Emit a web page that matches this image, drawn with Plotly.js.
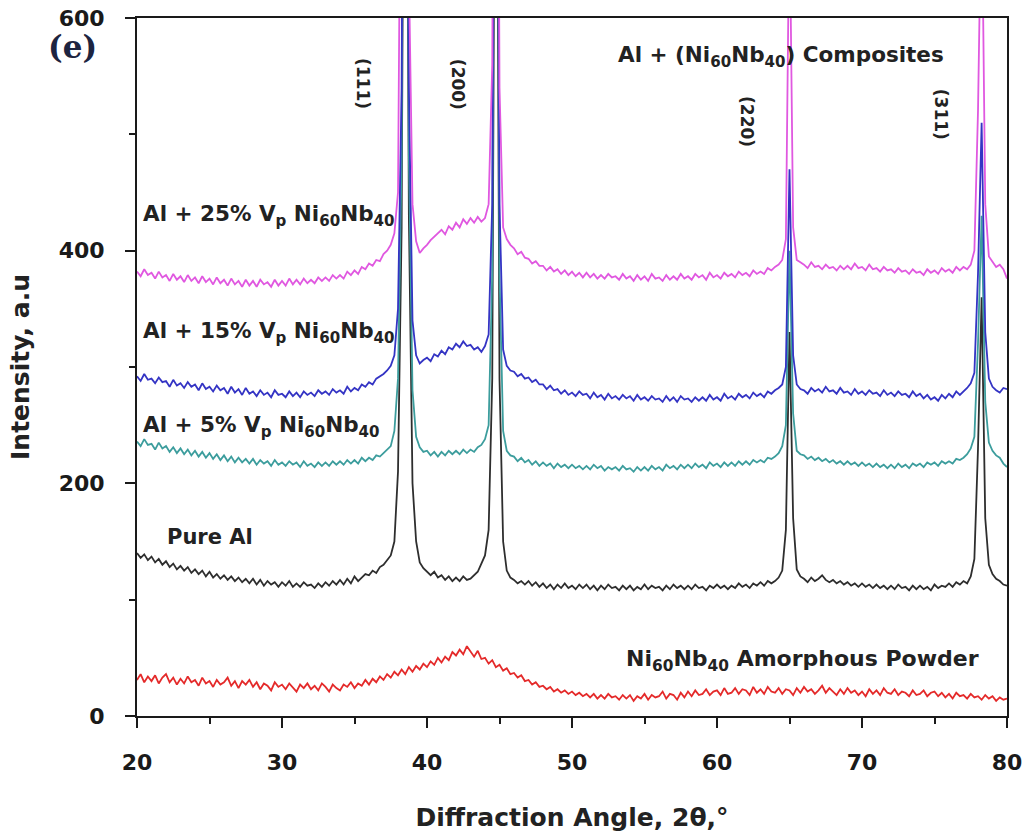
<!DOCTYPE html>
<html>
<head>
<meta charset="utf-8">
<script src="https://cdn.plot.ly/plotly-3.0.1.min.js"></script>
<style>html,body{margin:0;padding:0;background:#fff;}#chart{width:1024px;height:839px;}</style>
</head>
<body>
<div id="chart"></div>
<script>
// Diffraction angle grid: starts at 20 deg, one reading every 0.25 deg up to 80 deg
const angleStart = 20;
const angleStep = 0.25;

// Intensity readings (a.u.), four per degree, 20.00 ... 80.00
const amorphousPowder = [
31,36,29,34, 30,35,28,33, 36,29,33,27, 32,28,34,29, 31,26,33,28,
30,25,31,27, 29,33,26,30, 24,30,27,31, 25,29,23,28, 26,22,29,25,
27,23,28,24, 21,27,24,28, 23,26,22,28, 25,21,27,24, 22,27,25,29,
24,28,26,31, 27,32,29,34, 31,36,33,38, 35,40,36,42, 38,43,40,45,
42,47,44,50, 46,51,48,55, 52,57,53,60, 55,51,56,49, 50,45,48,42,
44,39,41,36, 37,33,35,30, 31,27,29,25, 26,23,25,21, 23,20,22,19,
21,18,20,17, 19,16,19,15, 18,15,19,16, 17,14,18,15, 18,13,17,15,
19,14,18,16, 17,21,15,19, 18,14,20,16, 21,17,22,18, 19,23,18,21,
22,18,24,19, 20,24,19,23, 22,18,25,20, 23,19,25,21, 20,24,19,23,
22,18,24,20, 25,21,23,19, 22,26,20,24, 21,18,23,19, 24,20,22,18,
21,17,23,19, 22,18,24,20, 19,23,18,21, 20,17,22,18, 19,22,17,20,
21,17,20,16, 19,15,20,17, 18,15,19,16, 17,14,18,15, 17,13,16,14,
15];

const pureAl = [
140,136,139,134, 137,132,135,130, 133,128,131,126, 129,125,128,123, 126,122,125,120,
124,119,122,118, 121,117,120,116, 119,115,118,114, 118,113,117,112, 116,113,115,111,
115,112,116,111, 114,111,115,112, 113,110,114,111, 115,112,116,113, 117,113,118,114,
120,116,119,122, 121,125,123,128, 130,134,138,150, 210,420,1100,430, 200,150,132,127,
124,121,124,119, 121,117,120,116, 119,116,120,117, 118,121,124,131, 138,160,290,1000,
290,150,125,119, 117,114,116,113, 116,112,115,111, 114,110,113,109, 113,110,114,110,
112,109,113,110, 113,109,112,108, 112,109,113,110, 111,108,112,109, 112,108,111,109,
113,109,112,110, 111,108,112,109, 113,110,112,109, 112,109,113,110, 111,108,112,110,
113,110,112,109, 112,110,114,111, 113,110,114,112, 115,112,116,114, 116,119,125,160,
330,170,126,120, 118,115,119,116, 118,121,117,115, 117,114,116,113, 115,112,114,111,
114,111,113,110, 113,110,112,109, 112,109,113,110, 111,108,112,109, 112,109,111,108,
113,110,112,111, 114,111,115,113, 116,114,120,135, 230,360,170,130, 122,118,116,113,
112];

const composite5 = [
236,232,238,233, 234,229,235,230, 232,227,231,226, 230,225,229,224, 228,223,227,222,
226,221,225,220, 224,219,223,218, 222,218,221,217, 221,216,220,217, 219,215,220,216,
218,215,219,216, 218,214,219,215, 217,214,218,215, 218,215,219,216, 219,216,220,217,
220,217,222,219, 222,220,224,223, 226,229,232,245, 290,480,1200,480, 280,240,231,227,
228,224,227,223, 227,224,228,225, 228,225,229,226, 229,227,231,233, 238,250,380,1150,
380,245,228,224, 223,219,222,218, 220,216,219,215, 218,215,217,213, 217,214,216,213,
216,213,215,212, 215,212,216,213, 215,211,214,212, 214,211,215,212, 213,210,214,211,
214,211,215,212, 214,211,216,213, 215,212,216,213, 216,213,217,214, 216,213,218,215,
217,214,218,215, 218,215,219,216, 219,216,220,218, 220,218,222,221, 223,226,232,250,
400,260,228,225, 224,221,223,220, 222,219,221,218, 220,217,219,216, 219,216,218,215,
218,215,217,214, 217,214,216,213, 216,213,217,214, 216,213,217,215, 217,214,218,216,
218,215,219,217, 219,217,221,220, 222,225,230,240, 320,430,270,235, 228,224,222,217,
214];

const composite15 = [
292,288,294,289, 290,286,291,287, 288,283,289,284, 286,282,287,283, 285,280,286,281,
283,279,284,280, 282,277,283,278, 281,276,282,277, 279,275,280,276, 278,274,280,276,
277,274,279,275, 278,274,279,276, 278,275,280,277, 279,276,281,278, 280,277,283,279,
282,280,285,283, 287,285,290,292, 294,297,301,310, 350,540,1200,540, 340,310,303,306,
308,305,311,309, 314,311,317,315, 320,317,322,318, 319,315,317,313, 318,328,440,1150,
440,315,301,297, 296,292,294,290, 291,287,289,285, 285,281,284,280, 281,277,280,276,
278,275,279,276, 277,273,278,274, 276,272,277,273, 275,272,276,273, 275,271,276,272,
274,271,275,272, 273,270,275,271, 274,270,275,272, 273,270,274,271, 274,271,276,272,
274,271,277,273, 275,272,277,274, 276,273,278,275, 277,274,279,277, 280,282,285,300,
470,310,285,281, 280,277,282,279, 281,278,283,279, 280,277,282,278, 279,276,281,277,
279,276,280,277, 278,275,280,276, 278,275,279,276, 277,274,279,275, 277,273,276,272,
274,271,276,273, 277,274,279,276, 279,282,286,295, 380,510,330,290, 283,280,278,282,
281];

const composite25 = [
382,378,384,379, 381,376,382,377, 379,374,380,375, 378,373,379,374, 377,372,378,373,
376,371,377,372, 375,370,376,371, 374,369,375,370, 374,369,375,371, 373,369,375,370,
374,370,376,371, 375,371,376,372, 375,372,377,374, 377,374,379,376, 379,376,382,379,
383,380,386,384, 389,387,392,391, 397,400,405,415, 450,640,1300,640, 440,408,398,402,
405,409,412,415, 418,414,421,418, 424,420,427,423, 428,424,429,425, 428,440,560,1250,
540,420,410,405, 402,397,399,394, 393,389,391,387, 387,383,386,382, 384,380,383,379,
382,378,381,377, 381,377,380,376, 379,376,380,377, 378,375,380,376, 378,374,379,375,
378,374,380,376, 377,374,379,375, 378,375,380,376, 378,375,380,377, 379,375,381,377,
379,376,381,378, 380,377,382,379, 381,378,383,380, 382,380,385,383, 386,388,392,410,
700,420,392,390, 388,385,390,386, 387,384,388,385, 386,383,387,384, 387,384,389,385,
386,383,388,384, 385,382,386,383, 384,381,385,382, 383,380,384,381, 382,379,384,381,
383,380,385,382, 384,381,386,383, 386,384,388,400, 520,720,440,395, 390,386,388,384,
376];

const seriesNames = ['Ni60Nb40 Amorphous Powder', 'Pure Al', 'Al + 5% Vp Ni60Nb40', 'Al + 15% Vp Ni60Nb40', 'Al + 25% Vp Ni60Nb40'];
const seriesColors = ['#e42a2a', '#2e2e2e', '#3c9d9d', '#3434c4', '#e058e0'];
const seriesValues = [amorphousPowder, pureAl, composite5, composite15, composite25];

const peakLabels = ['(111)', '(200)', '(220)', '(311)'];

const traces = seriesValues.map((vals, i) => ({
  type: 'scatter',
  mode: 'lines',
  name: seriesNames[i],
  x0: angleStart,
  dx: angleStep,
  y: vals,
  line: {color: seriesColors[i], width: 1.8},
  hoverinfo: 'x+y+name'
}));

const boldFont = (size, color) => ({family: 'DejaVu Sans, Arial, sans-serif', size: size, color: color || '#222', weight: 'bold'});

const annotations = [
  {text: 'Al + 25% V<sub>p</sub> Ni<sub>60</sub>Nb<sub>40</sub>', x: 20.3, y: 430, xanchor: 'left', yanchor: 'middle', size: 21.5},
  {text: 'Al + 15% V<sub>p</sub> Ni<sub>60</sub>Nb<sub>40</sub>', x: 20.3, y: 330, xanchor: 'left', yanchor: 'middle', size: 21.5},
  {text: 'Al + 5% V<sub>p</sub> Ni<sub>60</sub>Nb<sub>40</sub>', x: 20.3, y: 249, xanchor: 'left', yanchor: 'middle', size: 21.5},
  {text: 'Pure Al', x: 21.9, y: 154, xanchor: 'left', yanchor: 'middle', size: 21},
  {text: 'Ni<sub>60</sub>Nb<sub>40</sub> Amorphous Powder', x: 78.2, y: 48, xanchor: 'right', yanchor: 'middle', size: 22},
  {text: 'Al + (Ni<sub>60</sub>Nb<sub>40</sub>) Composites', x: 64.4, y: 567, xanchor: 'center', yanchor: 'middle', size: 21.5}
].map(a => {
  const s = a.size; delete a.size;
  return Object.assign({xref: 'x', yref: 'y', showarrow: false, font: boldFont(s)}, a);
});

const peakPos = [[35.6, 544], [42.1, 543], [62.1, 511], [75.5, 517]];
peakLabels.forEach((t, i) => annotations.push({
  text: t, x: peakPos[i][0], y: peakPos[i][1], xref: 'x', yref: 'y', showarrow: false,
  textangle: 90, font: boldFont(17)
}));

annotations.push({
  text: '(e)', xref: 'paper', yref: 'paper', x: -0.074, y: 0.958, showarrow: false,
  xanchor: 'center', yanchor: 'middle',
  font: {family: 'DejaVu Serif, Liberation Serif, serif', size: 31, color: '#1d2440', weight: 'bold'}
});

const axisCommon = {
  showline: true, linecolor: '#1a1a1a', linewidth: 2, mirror: true,
  ticks: 'outside', ticklen: 10, tickwidth: 2, tickcolor: '#1a1a1a',
  showgrid: false, zeroline: false,
  tickfont: boldFont(22, '#1a1a1a')
};

const layout = {
  width: 1024, height: 839,
  margin: {l: 137, r: 17, t: 18, b: 123},
  paper_bgcolor: '#fff', plot_bgcolor: '#fff',
  showlegend: false,
  xaxis: Object.assign({}, axisCommon, {
    range: [20, 80], tick0: 20, dtick: 10,
    minor: {dtick: 5, ticks: 'outside', ticklen: 6, tickwidth: 2, tickcolor: '#1a1a1a'},
    ticklabelstandoff: 16,
    title: {text: 'Diffraction Angle, 2θ,°', font: boldFont(25), standoff: 34}
  }),
  yaxis: Object.assign({}, axisCommon, {
    range: [0, 600], tick0: 0, dtick: 200,
    minor: {dtick: 100, ticks: 'outside', ticklen: 6, tickwidth: 2, tickcolor: '#1a1a1a'},
    ticklabelstandoff: 16,
    title: {text: 'Intensity, a.u', font: boldFont(25), standoff: 22}
  }),
  annotations: annotations
};

Plotly.newPlot('chart', traces, layout, {displayModeBar: false, staticPlot: true});
</script>
</body>
</html>
